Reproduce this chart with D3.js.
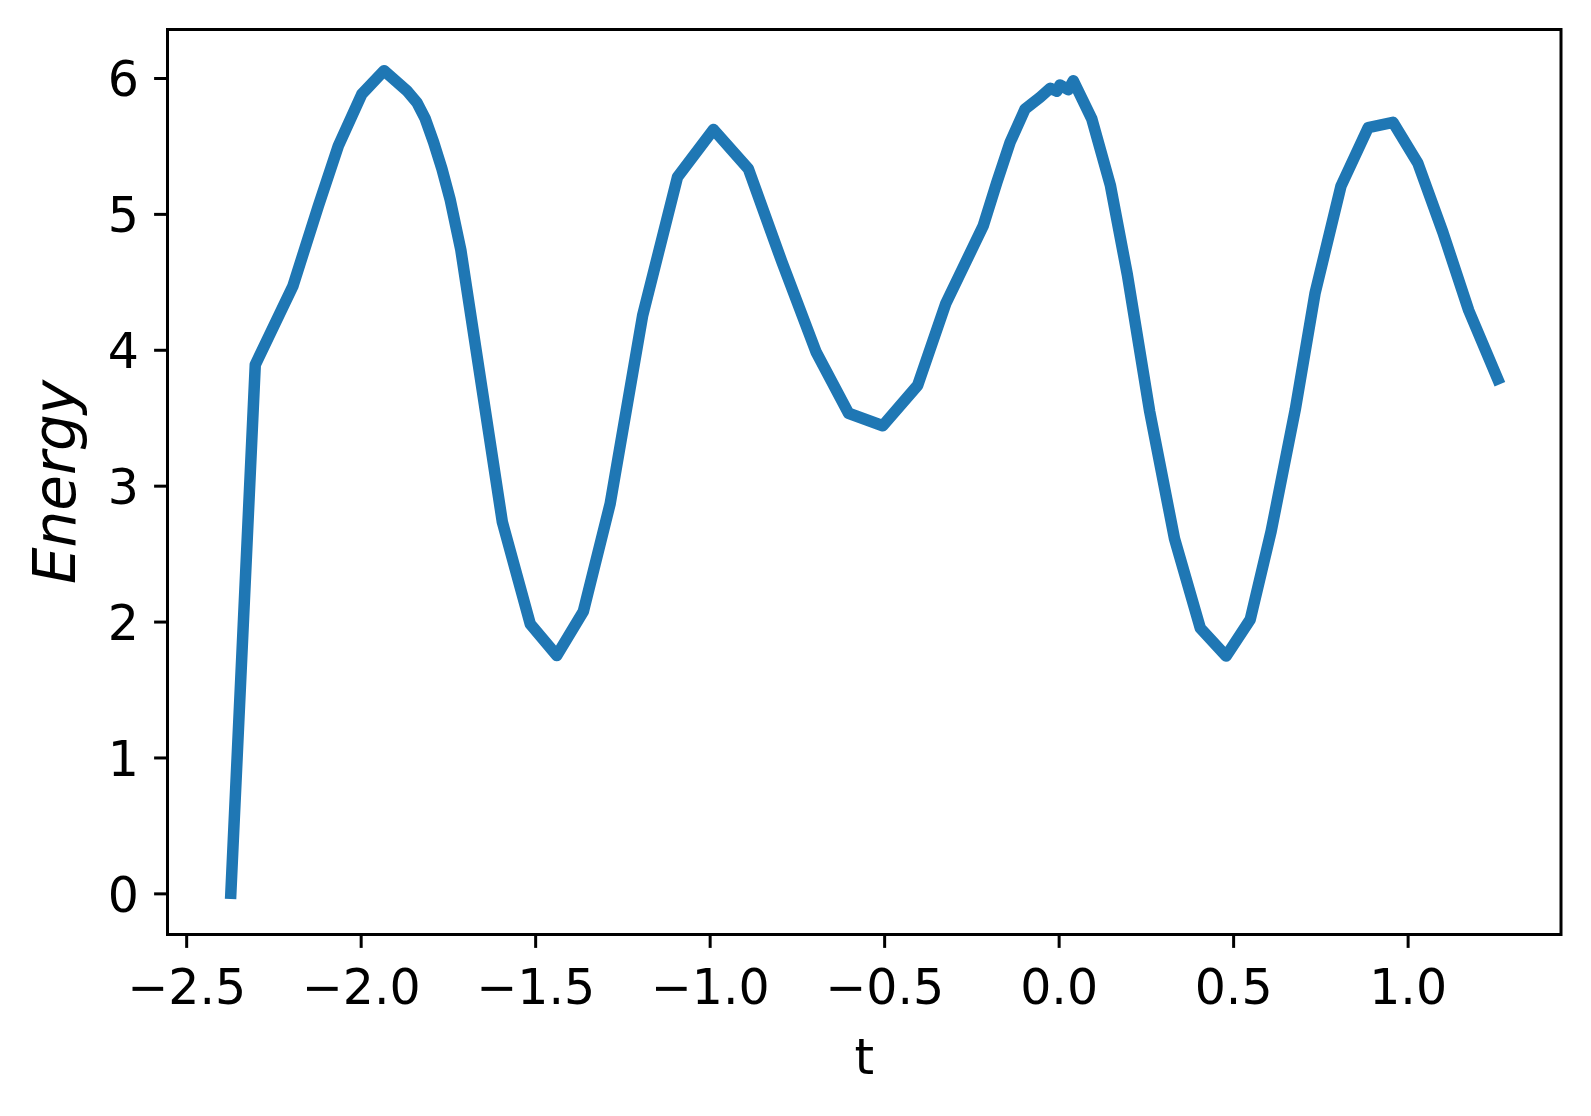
<!DOCTYPE html>
<html>
<head>
<meta charset="utf-8">
<script src="https://cdn.jsdelivr.net/npm/d3@7"></script>
<style>
  body { margin: 0; background: #fff; }
  svg { display: block; }
  text { font-family: "DejaVu Sans", sans-serif; fill: #000; }
</style>
</head>
<body>
<svg></svg>
<script>
// Series
const tValues = [
  -2.372, -2.302, -2.194, -2.121, -2.064, -1.997, -1.933, -1.868, -1.839, -1.815,
  -1.791, -1.767, -1.744, -1.713, -1.594, -1.514, -1.438, -1.362, -1.285, -1.192,
  -1.092, -0.989, -0.889, -0.794, -0.695, -0.602, -0.504, -0.404, -0.323, -0.216,
  -0.177, -0.139, -0.096, -0.053, -0.024, -0.005, 0.004, 0.028, 0.042, 0.095,
  0.148, 0.197, 0.261, 0.332, 0.406, 0.480, 0.549, 0.609, 0.678, 0.735,
  0.809, 0.887, 0.958, 1.029, 1.101, 1.175, 1.258
];
const energyValues = [
  0.0, 3.89, 4.47, 5.06, 5.50, 5.88, 6.054, 5.907, 5.82, 5.70,
  5.527, 5.33, 5.11, 4.735, 2.732, 1.982, 1.75, 2.074, 2.868, 4.252,
  5.272, 5.621, 5.331, 4.654, 3.984, 3.533, 3.441, 3.738, 4.343, 4.912,
  5.233, 5.527, 5.772, 5.858, 5.924, 5.902, 5.949, 5.914, 5.98, 5.699,
  5.213, 4.551, 3.544, 2.61, 1.952, 1.746, 2.015, 2.665, 3.559, 4.419,
  5.204, 5.635, 5.674, 5.375, 4.865, 4.29, 3.785
];
const xTicks = [-2.5, -2.0, -1.5, -1.0, -0.5, 0.0, 0.5, 1.0];
const yTicks = [0, 1, 2, 3, 4, 5, 6];
const xLabel = "t";
const yLabel = "Energy";

// Figure and axes box
const width = 1591;
const height = 1116;
const margin = { top: 29.5, right: 30, bottom: 181.5, left: 167.5 };
const plotW = width - margin.left - margin.right;
const plotH = height - margin.top - margin.bottom;
const tickLen = 13.4;
const tickFont = 49;

const svg = d3.select("svg").attr("width", width).attr("height", height);
const g = svg.append("g").attr("transform", `translate(${margin.left},${margin.top})`);

// 5% padding like matplotlib's auto margins
function padded(values) {
  const [lo, hi] = d3.extent(values);
  const pad = (hi - lo) * 0.05;
  return [lo - pad, hi + pad];
}

const x = d3.scaleLinear().domain(padded(tValues)).range([0, plotW]);
const y = d3.scaleLinear().domain(padded(energyValues)).range([plotH, 0]);

const fmtX = (d) => d3.format(".1f")(d).replace("-", "\u2212");

// x axis
const xAxis = g.append("g")
  .attr("transform", `translate(0,${plotH})`)
  .call(d3.axisBottom(x).tickValues(xTicks).tickSize(tickLen).tickPadding(13.4).tickFormat(fmtX));
// y axis
const yAxis = g.append("g")
  .call(d3.axisLeft(y).tickValues(yTicks).tickSize(tickLen).tickPadding(13.4).tickFormat(d3.format("d")));

[xAxis, yAxis].forEach((ax) => {
  ax.select(".domain").remove();
  ax.selectAll(".tick line").attr("stroke", "#000").attr("stroke-width", 3);
  ax.selectAll(".tick text")
    .style("font-family", "DejaVu Sans")
    .style("font-size", tickFont + "px")
    .attr("fill", "#000");
});
xAxis.selectAll(".tick text").attr("dy", null).attr("y", 69);
yAxis.selectAll(".tick text").attr("dy", "0.36em").attr("x", -28.5);

// the line
const line = d3.line()
  .x((d, i) => x(tValues[i]))
  .y((d) => y(d));

g.append("path")
  .datum(energyValues)
  .attr("fill", "none")
  .attr("stroke", "#1f77b4")
  .attr("stroke-width", 11.5)
  .attr("stroke-linejoin", "round")
  .attr("stroke-linecap", "square")
  .attr("d", line);

// axes frame
g.append("rect")
  .attr("width", plotW)
  .attr("height", plotH)
  .attr("fill", "none")
  .attr("stroke", "#000")
  .attr("stroke-width", 3);

// labels
svg.append("text")
  .attr("x", margin.left + plotW / 2)
  .attr("y", 1074)
  .attr("text-anchor", "middle")
  .style("font-size", "50px")
  .text(xLabel);

svg.append("text")
  .attr("transform", `translate(75,${margin.top + plotH / 2}) rotate(-90)`)
  .attr("text-anchor", "middle")
  .style("font-size", "58px")
  .style("font-style", "italic")
  .text(yLabel);
</script>
</body>
</html>
